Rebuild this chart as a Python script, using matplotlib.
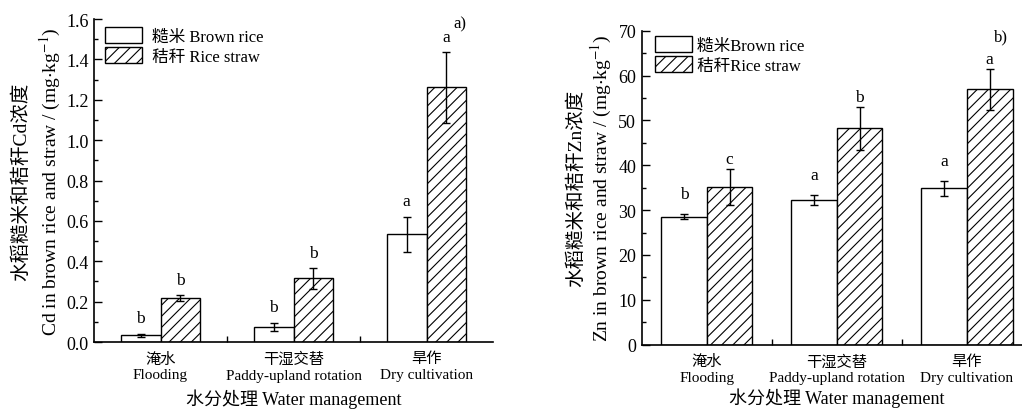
import numpy as np
import matplotlib
matplotlib.use('Agg')
import matplotlib.pyplot as plt
from matplotlib.ticker import MultipleLocator, FixedLocator

plt.rcParams['font.family'] = ['Liberation Serif', 'Noto Sans CJK SC']
plt.rcParams['mathtext.fontset'] = 'stix'
plt.rcParams['hatch.linewidth'] = 0.8

# categories
cat_cn = ['淹水', '干湿交替', '旱作']
cat_en = ['Flooding', 'Paddy-upland rotation', 'Dry cultivation']

# a) Cd
cd_brown     = [0.033, 0.074, 0.533]
cd_brown_err = [0.007, 0.020, 0.085]
cd_straw     = [0.218, 0.317, 1.262]
cd_straw_err = [0.016, 0.052, 0.175]
cd_brown_let = ['b', 'b', 'a']
cd_straw_let = ['b', 'b', 'a']

# b) Zn
zn_brown     = [28.5, 32.3, 34.9]
zn_brown_err = [0.55, 1.15, 1.7]
zn_straw     = [35.15, 48.2, 56.9]
zn_straw_err = [4.1, 4.8, 4.6]
zn_brown_let = ['b', 'a', 'a']
zn_straw_let = ['c', 'b', 'a']


def panel(ax, brown, brown_err, straw, straw_err, let_b, let_s,
          width, ymax, ymaj, ymin, fmt, leg_labels, leg_pos, tpad,
          ylab_cn, ylab_en, ylab_x, tag, tag_pos, off_b, off_s, xlpad):
    x = np.arange(len(brown))
    ax.bar(x - width/2, brown, width, color='white', edgecolor='black',
           linewidth=1.0, label=leg_labels[0], zorder=2)
    ax.bar(x + width/2, straw, width, color='white', edgecolor='black',
           hatch='///', linewidth=1.0, label=leg_labels[1], zorder=2)
    ax.errorbar(x - width/2, brown, yerr=brown_err, fmt='none',
                ecolor='black', elinewidth=1.0, capsize=2.6, capthick=1.0,
                zorder=3)
    ax.errorbar(x + width/2, straw, yerr=straw_err, fmt='none',
                ecolor='black', elinewidth=1.0, capsize=2.6, capthick=1.0,
                zorder=3)
    # significance letters
    for xi, v, e, l in zip(x - width/2, brown, brown_err, let_b):
        ax.annotate(l, (xi, v + e), xytext=(0, off_b), textcoords='offset pixels',
                    ha='center', va='baseline', fontsize=12.5)
    for xi, v, e, l in zip(x + width/2, straw, straw_err, let_s):
        ax.annotate(l, (xi, v + e), xytext=(0, off_s), textcoords='offset pixels',
                    ha='center', va='baseline', fontsize=12.5)

    ax.set_xlim(-0.5, 2.5)
    ax.set_ylim(0, ymax)
    ax.yaxis.set_major_locator(MultipleLocator(ymaj))
    ax.yaxis.set_minor_locator(MultipleLocator(ymin))
    ax.yaxis.set_major_formatter(plt.FormatStrFormatter(fmt))
    ax.set_xticks(x)
    ax.set_xticklabels([c + '\n' + e for c, e in zip(cat_cn, cat_en)],
                       fontsize=11, linespacing=1.25)
    ax.xaxis.set_minor_locator(FixedLocator([0.5, 1.5]))
    ax.tick_params(axis='x', which='major', length=0, pad=7)
    ax.tick_params(axis='x', which='minor', direction='in', length=4, width=1)
    ax.tick_params(axis='y', which='major', direction='in', length=6, width=1,
                   labelsize=13, pad=4)
    ax.tick_params(axis='y', which='minor', direction='in', length=3, width=1)
    for s in ['top', 'right']:
        ax.spines[s].set_visible(False)
    for s in ['left', 'bottom']:
        ax.spines[s].set_linewidth(1.2)

    ax.set_xlabel('水分处理 Water management', fontsize=13, labelpad=xlpad)
    ax.text(ylab_x[0], 0.5, ylab_cn, transform=ax.transAxes, rotation=90,
            ha='center', va='center', fontsize=14)
    ax.text(ylab_x[1], 0.5, ylab_en, transform=ax.transAxes, rotation=90,
            ha='center', va='center', fontsize=14)
    ax.text(tag_pos[0], tag_pos[1], tag, transform=ax.transAxes,
            ha='center', va='center', fontsize=12)

    ax.legend(loc='upper left', bbox_to_anchor=leg_pos, frameon=False,
              fontsize=12, handlelength=2.2, handleheight=1.1,
              labelspacing=0.15, handletextpad=tpad, borderpad=0,
              borderaxespad=0)


fig = plt.figure(figsize=(10.22, 4.10), dpi=100)
ax1 = fig.add_axes([0.0920, 0.1634, 0.3904, 0.7878])
ax2 = fig.add_axes([0.6279, 0.1568, 0.3819, 0.7659])

panel(ax1, cd_brown, cd_brown_err, cd_straw, cd_straw_err,
      cd_brown_let, cd_straw_let, 0.30, 1.6, 0.2, 0.1, '%.1f',
      ['糙米 Brown rice', '秸秆 Rice straw'], (0.0276, 0.975), 0.6,
      '水稻糙米和秸秆Cd浓度', r'Cd in brown rice and straw / (mg$\cdot$kg$^{-1}$)',
      (-0.183, -0.110), 'a)', (0.917, 0.985), 12, 11, 5)

panel(ax2, zn_brown, zn_brown_err, zn_straw, zn_straw_err,
      zn_brown_let, zn_straw_let, 0.35, 70, 10, 5, '%d',
      ['糙米Brown rice', '秸秆Rice straw'], (0.034, 0.983), 0.3,
      '水稻糙米和秸秆Zn浓度', r'Zn in brown rice and straw / (mg$\cdot$kg$^{-1}$)',
      (-0.168, -0.104), 'b)', (0.92, 0.983), 16, 6, 2)

fig.savefig('out.png', dpi=100)
